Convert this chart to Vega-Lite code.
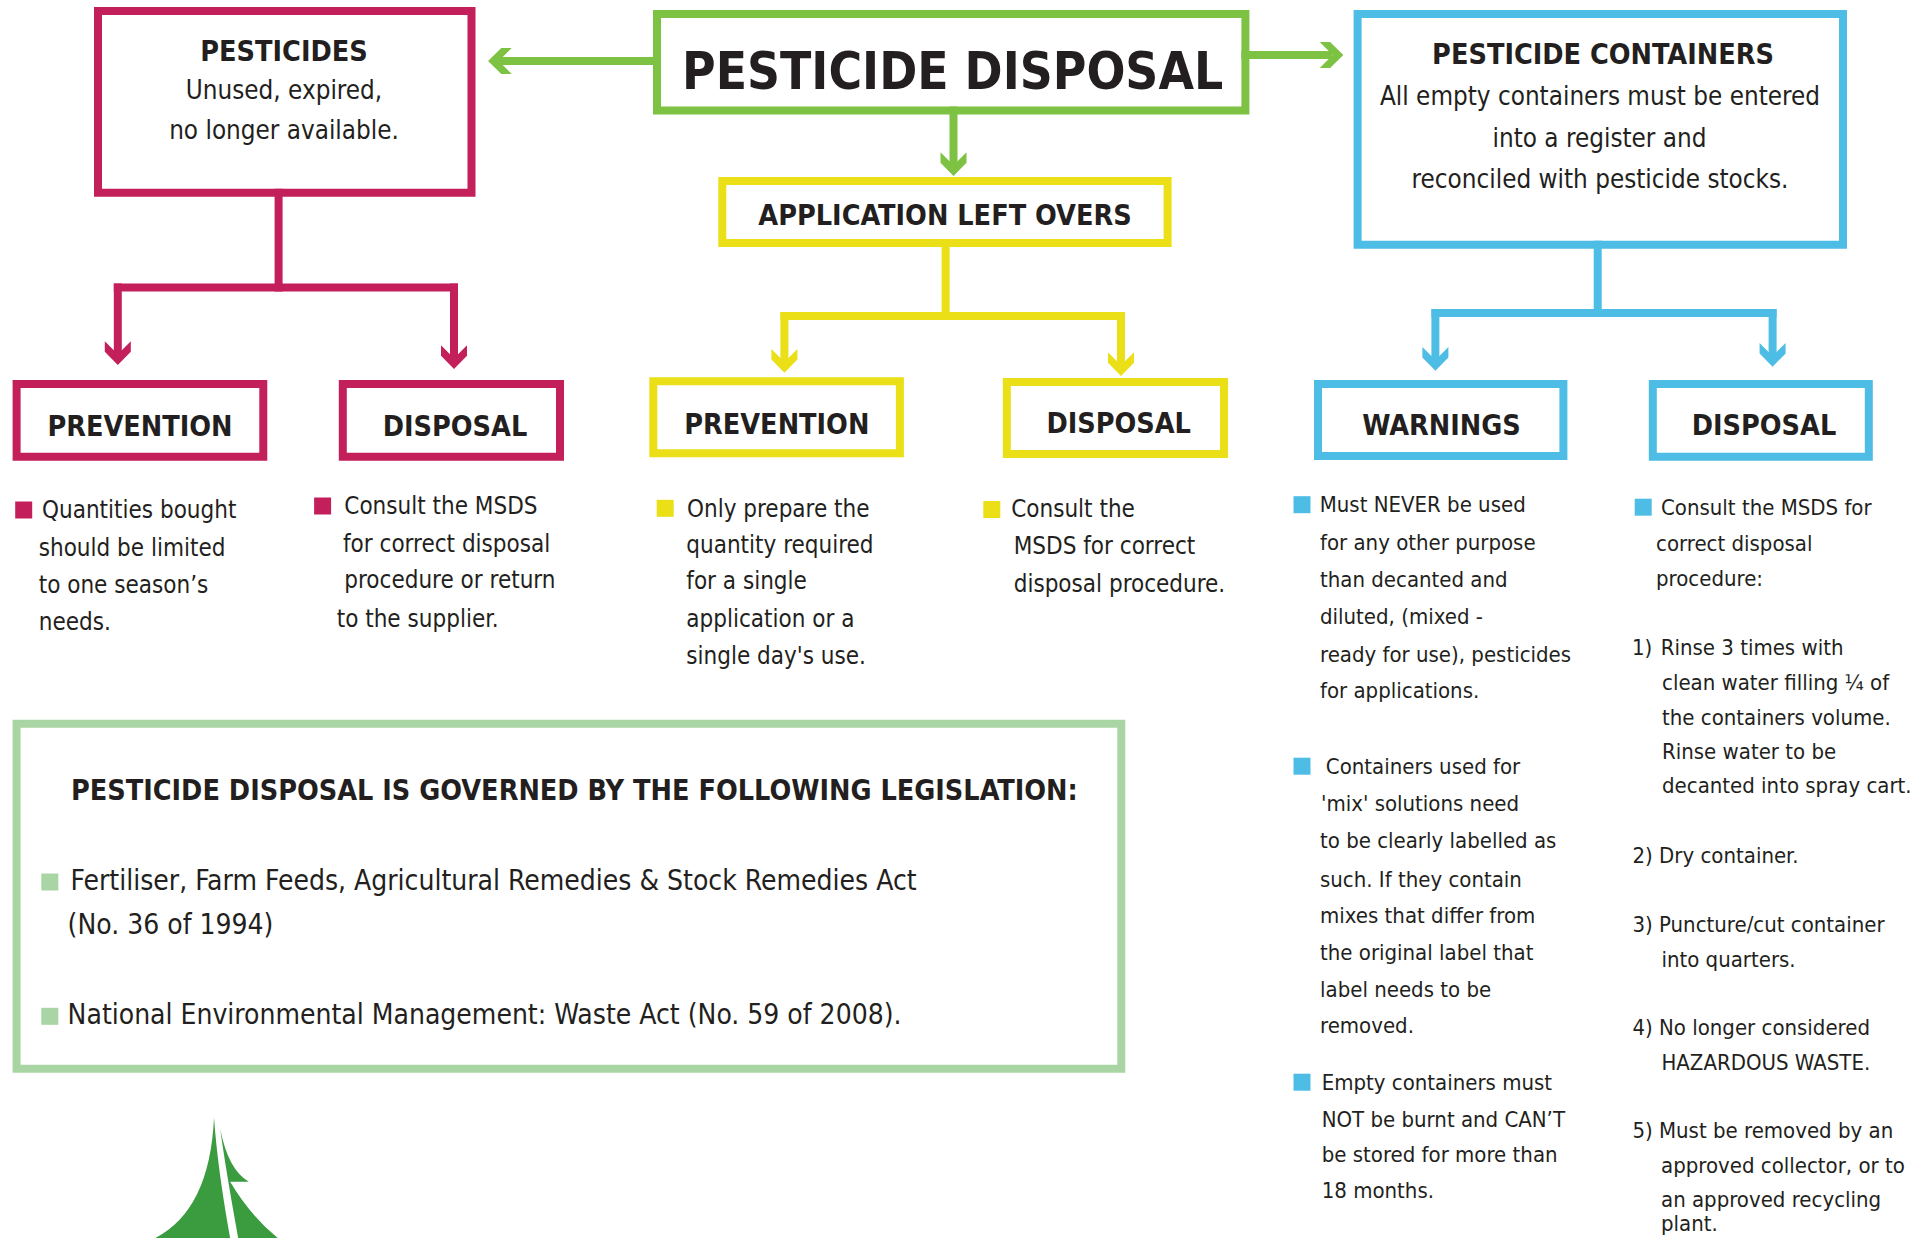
{
  "$schema": "https://vega.github.io/schema/vega-lite/v6.json",
  "width": 1921,
  "height": 1238,
  "autosize": {"type": "none"},
  "padding": 0,
  "background": "white",
  "config": {"view": {"stroke": null}},
  "datasets": {
    "boxes": [
      {"box": "Pesticides", "group": "pesticides", "x1": 98, "x2": 471.5, "y1": 11, "y2": 192.7},
      {"box": "Pesticide disposal", "group": "main", "x1": 657, "x2": 1245.4, "y1": 14, "y2": 110.5},
      {"box": "Pesticide containers", "group": "containers", "x1": 1357.6, "x2": 1843, "y1": 14, "y2": 244.7},
      {"box": "Application left overs", "group": "leftovers", "x1": 722.3, "x2": 1167.6, "y1": 181, "y2": 243},
      {"box": "Prevention (pesticides)", "group": "pesticides", "x1": 16.6, "x2": 263.3, "y1": 384, "y2": 456.7},
      {"box": "Disposal (pesticides)", "group": "pesticides", "x1": 342.8, "x2": 560, "y1": 384, "y2": 456.7},
      {"box": "Prevention (left overs)", "group": "leftovers", "x1": 653.3, "x2": 899.9, "y1": 381.3, "y2": 453.3},
      {"box": "Disposal (left overs)", "group": "leftovers", "x1": 1006.8, "x2": 1224, "y1": 382, "y2": 454},
      {"box": "Warnings", "group": "containers", "x1": 1318, "x2": 1563.4, "y1": 384, "y2": 456},
      {"box": "Disposal (containers)", "group": "containers", "x1": 1652.8, "x2": 1868.8, "y1": 384, "y2": 456.7},
      {"box": "Legislation", "group": "legislation", "x1": 16.6, "x2": 1121.3, "y1": 723.8, "y2": 1068.8}
    ],
    "links": [
      {"group": "pesticides", "x1": 278.6, "y1": 192.7, "x2": 278.6, "y2": 287.5},
      {"group": "pesticides", "x1": 117.8, "y1": 287.5, "x2": 454, "y2": 287.5},
      {"group": "pesticides", "x1": 117.8, "y1": 287.5, "x2": 117.8, "y2": 350},
      {"group": "pesticides", "x1": 454, "y1": 287.5, "x2": 454, "y2": 354},
      {"group": "main", "x1": 503, "y1": 61, "x2": 657, "y2": 61},
      {"group": "main", "x1": 1245.4, "y1": 55, "x2": 1328, "y2": 55},
      {"group": "main", "x1": 953.5, "y1": 110.5, "x2": 953.5, "y2": 161},
      {"group": "leftovers", "x1": 945.6, "y1": 243, "x2": 945.6, "y2": 316},
      {"group": "leftovers", "x1": 784.4, "y1": 316, "x2": 1121, "y2": 316},
      {"group": "leftovers", "x1": 784.4, "y1": 316, "x2": 784.4, "y2": 358},
      {"group": "leftovers", "x1": 1121, "y1": 316, "x2": 1121, "y2": 361},
      {"group": "containers", "x1": 1597.7, "y1": 244.7, "x2": 1597.7, "y2": 313},
      {"group": "containers", "x1": 1435.4, "y1": 313, "x2": 1772.6, "y2": 313},
      {"group": "containers", "x1": 1435.4, "y1": 313, "x2": 1435.4, "y2": 356},
      {"group": "containers", "x1": 1772.6, "y1": 313, "x2": 1772.6, "y2": 352}
    ],
    "heads": [
      {"group": "pesticides", "dir": "down", "x": 117.8, "y": 353},
      {"group": "pesticides", "dir": "down", "x": 454, "y": 357},
      {"group": "main", "dir": "left", "x": 500, "y": 61},
      {"group": "main", "dir": "right", "x": 1331.4, "y": 55},
      {"group": "main", "dir": "down", "x": 953.5, "y": 164},
      {"group": "leftovers", "dir": "down", "x": 784.4, "y": 360.7},
      {"group": "leftovers", "dir": "down", "x": 1121, "y": 364},
      {"group": "containers", "dir": "down", "x": 1435.4, "y": 358.7},
      {"group": "containers", "dir": "down", "x": 1772.6, "y": 354.7}
    ],
    "bullets": [
      {"group": "pesticides", "x": 23.7, "y": 510},
      {"group": "pesticides", "x": 322.6, "y": 506},
      {"group": "leftovers", "x": 665.2, "y": 508.3},
      {"group": "leftovers", "x": 991.8, "y": 509.5},
      {"group": "containers", "x": 1302, "y": 504.7},
      {"group": "containers", "x": 1302, "y": 766.2},
      {"group": "containers", "x": 1302, "y": 1082.2},
      {"group": "containers", "x": 1643.2, "y": 507.2},
      {"group": "legislation", "x": 49.8, "y": 882},
      {"group": "legislation", "x": 49.8, "y": 1016.3}
    ],
    "labels": [
      {"kind": "title", "x": 952.6, "y": 89, "text": "PESTICIDE DISPOSAL"},
      {"kind": "heading", "x": 284, "y": 61, "text": "PESTICIDES"},
      {"kind": "heading", "x": 140, "y": 436, "text": "PREVENTION"},
      {"kind": "heading", "x": 455, "y": 436, "text": "DISPOSAL"},
      {"kind": "heading", "x": 945, "y": 225, "text": "APPLICATION LEFT OVERS"},
      {"kind": "heading", "x": 776.8, "y": 434, "text": "PREVENTION"},
      {"kind": "heading", "x": 1118.7, "y": 433, "text": "DISPOSAL"},
      {"kind": "heading", "x": 1603, "y": 64, "text": "PESTICIDE CONTAINERS"},
      {"kind": "heading", "x": 1441.5, "y": 435, "text": "WARNINGS"},
      {"kind": "heading", "x": 1764, "y": 435, "text": "DISPOSAL"},
      {"kind": "heading", "x": 574.4, "y": 800, "text": "PESTICIDE DISPOSAL IS GOVERNED BY THE FOLLOWING LEGISLATION:"},
      {"kind": "boxbody", "x": 284, "y": 99, "text": "Unused, expired,"},
      {"kind": "boxbody", "x": 284, "y": 139, "text": "no longer available."},
      {"kind": "boxbody", "x": 1600, "y": 105, "text": "All empty containers must be entered"},
      {"kind": "boxbody", "x": 1599.5, "y": 147, "text": "into a register and"},
      {"kind": "boxbody", "x": 1600, "y": 188, "text": "reconciled with pesticide stocks."},
      {"kind": "body", "x": 42, "y": 518, "text": "Quantities bought"},
      {"kind": "body", "x": 38.7, "y": 555.7, "text": "should be limited"},
      {"kind": "body", "x": 38.7, "y": 593.3, "text": "to one season’s"},
      {"kind": "body", "x": 38.7, "y": 630, "text": "needs."},
      {"kind": "body", "x": 344.3, "y": 514.3, "text": "Consult the MSDS"},
      {"kind": "body", "x": 343, "y": 551.7, "text": "for correct disposal"},
      {"kind": "body", "x": 344.3, "y": 588.3, "text": "procedure or return"},
      {"kind": "body", "x": 336.7, "y": 626.7, "text": "to the supplier."},
      {"kind": "body", "x": 687, "y": 516.7, "text": "Only prepare the"},
      {"kind": "body", "x": 686.3, "y": 553.3, "text": "quantity required"},
      {"kind": "body", "x": 686.3, "y": 589.3, "text": "for a single"},
      {"kind": "body", "x": 686.3, "y": 626.7, "text": "application or a"},
      {"kind": "body", "x": 686.3, "y": 664, "text": "single day's use."},
      {"kind": "body", "x": 1011.2, "y": 517.3, "text": "Consult the"},
      {"kind": "body", "x": 1013.7, "y": 554.3, "text": "MSDS for correct"},
      {"kind": "body", "x": 1013.7, "y": 591.7, "text": "disposal procedure."},
      {"kind": "bodyblue", "x": 1319.7, "y": 512.3, "text": "Must NEVER be used"},
      {"kind": "bodyblue", "x": 1320, "y": 550, "text": "for any other purpose"},
      {"kind": "bodyblue", "x": 1320, "y": 587.3, "text": "than decanted and"},
      {"kind": "bodyblue", "x": 1320, "y": 624, "text": "diluted, (mixed -"},
      {"kind": "bodyblue", "x": 1320, "y": 661.7, "text": "ready for use), pesticides"},
      {"kind": "bodyblue", "x": 1320, "y": 698.3, "text": "for applications."},
      {"kind": "bodyblue", "x": 1325.8, "y": 774, "text": "Containers used for"},
      {"kind": "bodyblue", "x": 1321, "y": 810.7, "text": "'mix' solutions need"},
      {"kind": "bodyblue", "x": 1320, "y": 848.3, "text": "to be clearly labelled as"},
      {"kind": "bodyblue", "x": 1320, "y": 886.7, "text": "such. If they contain"},
      {"kind": "bodyblue", "x": 1320, "y": 923.3, "text": "mixes that differ from"},
      {"kind": "bodyblue", "x": 1320, "y": 960, "text": "the original label that"},
      {"kind": "bodyblue", "x": 1320, "y": 996.7, "text": "label needs to be"},
      {"kind": "bodyblue", "x": 1320, "y": 1033.3, "text": "removed."},
      {"kind": "bodyblue", "x": 1321.7, "y": 1090, "text": "Empty containers must"},
      {"kind": "bodyblue", "x": 1321.7, "y": 1126.7, "text": "NOT be burnt and CAN’T"},
      {"kind": "bodyblue", "x": 1321.7, "y": 1161.7, "text": "be stored for more than"},
      {"kind": "bodyblue", "x": 1321.7, "y": 1198.3, "text": "18 months."},
      {"kind": "bodyblue", "x": 1661, "y": 515, "text": "Consult the MSDS for"},
      {"kind": "bodyblue", "x": 1656, "y": 550.7, "text": "correct disposal"},
      {"kind": "bodyblue", "x": 1656, "y": 586, "text": "procedure:"},
      {"kind": "bodyblue", "x": 1632, "y": 655, "text": "1)"},
      {"kind": "bodyblue", "x": 1660.7, "y": 655, "text": "Rinse 3 times with"},
      {"kind": "bodyblue", "x": 1662, "y": 690, "text": "clean water filling ¼ of"},
      {"kind": "bodyblue", "x": 1662, "y": 725, "text": "the containers volume."},
      {"kind": "bodyblue", "x": 1662, "y": 759.3, "text": "Rinse water to be"},
      {"kind": "bodyblue", "x": 1662, "y": 793.3, "text": "decanted into spray cart."},
      {"kind": "bodyblue", "x": 1632.5, "y": 862.7, "text": "2) Dry container."},
      {"kind": "bodyblue", "x": 1632.4, "y": 931.7, "text": "3) Puncture/cut container"},
      {"kind": "bodyblue", "x": 1661.4, "y": 966.7, "text": "into quarters."},
      {"kind": "bodyblue", "x": 1632.4, "y": 1035, "text": "4) No longer considered"},
      {"kind": "bodyblue", "x": 1661.4, "y": 1070, "text": "HAZARDOUS WASTE."},
      {"kind": "bodyblue", "x": 1632.4, "y": 1138.3, "text": "5) Must be removed by an"},
      {"kind": "bodyblue", "x": 1661, "y": 1173.3, "text": "approved collector, or to"},
      {"kind": "bodyblue", "x": 1661, "y": 1206.7, "text": "an approved recycling"},
      {"kind": "bodyblue", "x": 1661, "y": 1231, "text": "plant."},
      {"kind": "legis", "x": 70.5, "y": 890, "text": "Fertiliser, Farm Feeds, Agricultural Remedies & Stock Remedies Act"},
      {"kind": "legis", "x": 67.6, "y": 934.2, "text": "(No. 36 of 1994)"},
      {"kind": "legis", "x": 67.6, "y": 1024.4, "text": "National Environmental Management: Waste Act (No. 59 of 2008)."}
    ],
    "logo": [{"item": "tree", "x": 216.5, "y": 1178}]
  },
  "layer": [
    {
      "data": {"name": "boxes"},
      "mark": {"type": "rect", "filled": false, "strokeWidth": 8},
      "encoding": {
        "x": {"field": "x1", "type": "quantitative", "scale": {"domain": [0, 1921], "nice": false, "zero": false}, "axis": null},
        "x2": {"field": "x2"},
        "y": {"field": "y1", "type": "quantitative", "scale": {"domain": [0, 1238], "nice": false, "zero": false, "reverse": true}, "axis": null},
        "y2": {"field": "y2"},
        "color": {"field": "group", "type": "nominal", "legend": null, "scale": {"domain": ["pesticides", "main", "leftovers", "containers", "legislation"], "range": ["#c21f5b", "#7dc242", "#ebdf17", "#4dbde5", "#a9d5a4"]}}
      }
    },
    {
      "data": {"name": "links"},
      "mark": {"type": "rule", "strokeWidth": 8, "strokeCap": "square"},
      "encoding": {
        "x": {"field": "x1", "type": "quantitative"},
        "x2": {"field": "x2"},
        "y": {"field": "y1", "type": "quantitative"},
        "y2": {"field": "y2"},
        "color": {"field": "group", "type": "nominal", "legend": null}
      }
    },
    {
      "data": {"name": "heads"},
      "mark": {"type": "point", "filled": true, "opacity": 1, "size": 676, "strokeWidth": 0},
      "encoding": {
        "x": {"field": "x", "type": "quantitative"},
        "y": {"field": "y", "type": "quantitative"},
        "color": {"field": "group", "type": "nominal", "legend": null},
        "shape": {"field": "dir", "type": "nominal", "legend": null, "scale": {"domain": ["down", "left", "right"], "range": [
          "M -1 -0.9 L 0 0.1 L 1 -0.9 L 1 -0.1 L 0 0.92 L -1 -0.1 Z",
          "M 0.9 -1 L -0.1 0 L 0.9 1 L 0.1 1 L -0.92 0 L 0.1 -1 Z",
          "M -0.9 -1 L 0.1 0 L -0.9 1 L -0.1 1 L 0.92 0 L -0.1 -1 Z"
        ]}}
      }
    },
    {
      "data": {"name": "bullets"},
      "mark": {"type": "point", "shape": "square", "filled": true, "opacity": 1, "size": 289, "strokeWidth": 0},
      "encoding": {
        "x": {"field": "x", "type": "quantitative"},
        "y": {"field": "y", "type": "quantitative"},
        "color": {"field": "group", "type": "nominal", "legend": null}
      }
    },
    {
      "data": {"name": "logo"},
      "mark": {"type": "point", "filled": true, "opacity": 1, "size": 15376, "strokeWidth": 0, "color": "#3a9c3e",
        "shape": "M -0.04 -0.97 Q -0.11 0.52 -0.99 0.97 L 0.22 0.97 Q 0.02 -0.13 -0.04 -0.97 Z M 0.06 -0.79 Q 0.19 -0.13 0.52 0.06 L 0.22 0.06 Q 0.54 0.6 0.99 0.97 L 0.35 0.97 Q 0.15 -0.13 0.06 -0.79 Z"},
      "encoding": {
        "x": {"field": "x", "type": "quantitative"},
        "y": {"field": "y", "type": "quantitative"}
      }
    },
    {
      "data": {"name": "labels"},
      "transform": [{"filter": "datum.kind === 'title'"}],
      "mark": {"type": "text", "font": "DejaVu Sans Condensed, sans-serif", "fontWeight": "bold", "fontSize": 51, "align": "center", "baseline": "alphabetic", "color": "#231f20"},
      "encoding": {"x": {"field": "x", "type": "quantitative"}, "y": {"field": "y", "type": "quantitative"}, "text": {"field": "text"}}
    },
    {
      "data": {"name": "labels"},
      "transform": [{"filter": "datum.kind === 'heading'"}],
      "mark": {"type": "text", "font": "DejaVu Sans Condensed, sans-serif", "fontWeight": "bold", "fontSize": 28.5, "align": "center", "baseline": "alphabetic", "color": "#231f20"},
      "encoding": {"x": {"field": "x", "type": "quantitative"}, "y": {"field": "y", "type": "quantitative"}, "text": {"field": "text"}}
    },
    {
      "data": {"name": "labels"},
      "transform": [{"filter": "datum.kind === 'boxbody'"}],
      "mark": {"type": "text", "font": "DejaVu Sans Condensed, sans-serif", "fontSize": 25.8, "align": "center", "baseline": "alphabetic", "color": "#231f20"},
      "encoding": {"x": {"field": "x", "type": "quantitative"}, "y": {"field": "y", "type": "quantitative"}, "text": {"field": "text"}}
    },
    {
      "data": {"name": "labels"},
      "transform": [{"filter": "datum.kind === 'body'"}],
      "mark": {"type": "text", "font": "DejaVu Sans Condensed, sans-serif", "fontSize": 24, "align": "left", "baseline": "alphabetic", "color": "#231f20"},
      "encoding": {"x": {"field": "x", "type": "quantitative"}, "y": {"field": "y", "type": "quantitative"}, "text": {"field": "text"}}
    },
    {
      "data": {"name": "labels"},
      "transform": [{"filter": "datum.kind === 'bodyblue'"}],
      "mark": {"type": "text", "font": "DejaVu Sans Condensed, sans-serif", "fontSize": 22, "align": "left", "baseline": "alphabetic", "color": "#231f20"},
      "encoding": {"x": {"field": "x", "type": "quantitative"}, "y": {"field": "y", "type": "quantitative"}, "text": {"field": "text"}}
    },
    {
      "data": {"name": "labels"},
      "transform": [{"filter": "datum.kind === 'legis'"}],
      "mark": {"type": "text", "font": "DejaVu Sans Condensed, sans-serif", "fontSize": 28, "align": "left", "baseline": "alphabetic", "color": "#231f20"},
      "encoding": {"x": {"field": "x", "type": "quantitative"}, "y": {"field": "y", "type": "quantitative"}, "text": {"field": "text"}}
    }
  ]
}
